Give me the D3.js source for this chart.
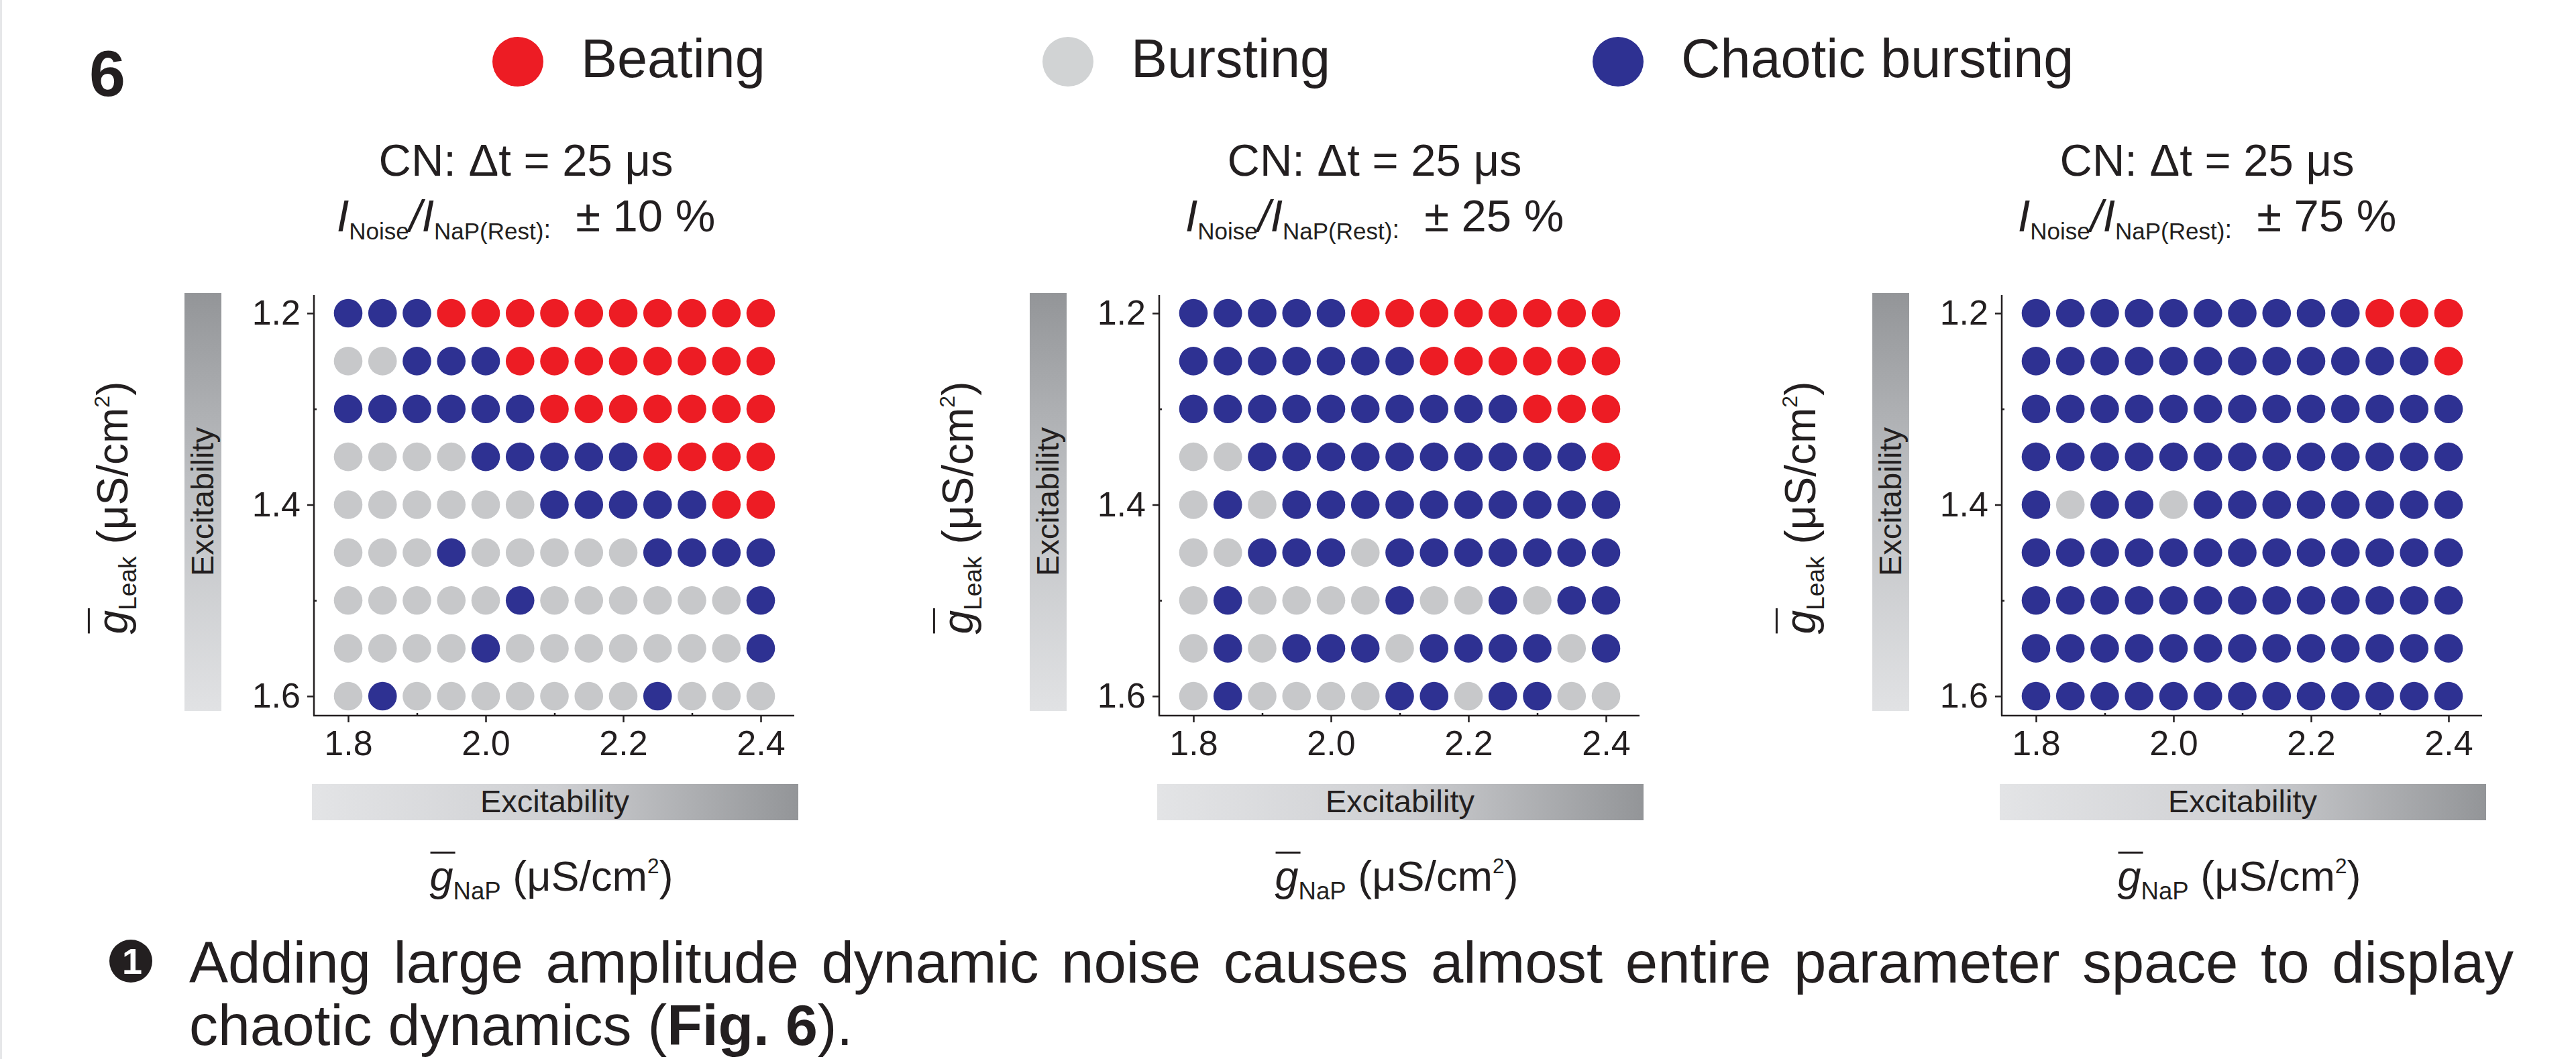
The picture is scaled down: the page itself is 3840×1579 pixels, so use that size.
<!DOCTYPE html>
<html>
<head>
<meta charset="utf-8">
<script src="https://cdn.jsdelivr.net/npm/d3@7"></script>
<style>
  html, body { margin: 0; padding: 0; background: #fff; }
  svg { display: block; font-family: "Liberation Sans", Arial, sans-serif; }
</style>
</head>
<body>
<svg id="chart" width="3840" height="1579"></svg>
<script>
// data
var gNaP = [1.80, 1.85, 1.90, 1.95, 2.00, 2.05, 2.10, 2.15, 2.20, 2.25, 2.30, 2.35, 2.40];
var gLeak = [1.20, 1.25, 1.30, 1.35, 1.40, 1.45, 1.50, 1.55, 1.60];
var xTicks = [1.8, 2.0, 2.2, 2.4];
var yTicks = [1.2, 1.4, 1.6];
var stateCodes = ["B", "S", "C"];
var stateNames = ["Beating", "Bursting", "Chaotic bursting"];
var noiseLevels = ["10", "25", "75"];
// B = beating, S = bursting, C = chaotic bursting; one string per gLeak row
var grid10 = [
    "CCCBBBBBBBBBB",
    "SSCCCBBBBBBBB",
    "CCCCCCBBBBBBB",
    "SSSSCCCCCBBBB",
    "SSSSSSCCCCCBB",
    "SSSCSSSSSCCCC",
    "SSSSSCSSSSSSC",
    "SSSSCSSSSSSSC",
    "SCSSSSSSSCSSS"
];
var grid25 = [
    "CCCCCBBBBBBBB",
    "CCCCCCCBBBBBB",
    "CCCCCCCCCCBBB",
    "SSCCCCCCCCCCB",
    "SCSCCCCCCCCCC",
    "SSCCCSCCCCCCC",
    "SCSSSSCSSCSCC",
    "SCSCCCSCCCCSC",
    "SCSSSSCCSCCSS"
];
var grid75 = [
    "CCCCCCCCCCBBB",
    "CCCCCCCCCCCCB",
    "CCCCCCCCCCCCC",
    "CCCCCCCCCCCCC",
    "CSCCSCCCCCCCC",
    "CCCCCCCCCCCCC",
    "CCCCCCCCCCCCC",
    "CCCCCCCCCCCCC",
    "CCCCCCCCCCCCC"
];
var grids = [grid10, grid25, grid75];

var ink = "#231f20";
var color = d3.scaleOrdinal().domain(stateCodes).range(["#ed1c24", "#c7c8ca", "#2e3192"]);
var legendColor = d3.scaleOrdinal().domain(stateCodes).range(["#ed1c24", "#d1d3d4", "#2e3192"]);

var svg = d3.select("#chart");
svg.append("rect").attr("width", 3840).attr("height", 1579).attr("fill", "#fff");
svg.append("rect").attr("width", 3).attr("height", 1579).attr("fill", "#e6e7e9");

// gradients
var defs = svg.append("defs");
var gv = defs.append("linearGradient").attr("id", "gradV").attr("x1", 0).attr("y1", 0).attr("x2", 0).attr("y2", 1);
gv.append("stop").attr("offset", "0%").attr("stop-color", "#939598");
gv.append("stop").attr("offset", "45%").attr("stop-color", "#bdbfc2");
gv.append("stop").attr("offset", "100%").attr("stop-color", "#e1e2e4");
var gh = defs.append("linearGradient").attr("id", "gradH").attr("x1", 0).attr("y1", 0).attr("x2", 1).attr("y2", 0);
gh.append("stop").attr("offset", "0%").attr("stop-color", "#e3e4e6");
gh.append("stop").attr("offset", "50%").attr("stop-color", "#cfd0d3");
gh.append("stop").attr("offset", "100%").attr("stop-color", "#939598");

// rich text helper: parts = [{t, size, italic, bold, shift}]
function richText(parent, x, y, parts, anchor) {
    var t = parent.append("text").attr("x", x).attr("y", y)
        .attr("text-anchor", anchor || "start").attr("fill", ink);
    var cur = 0;
    parts.forEach(function (p) {
        var s = p.shift || 0;
        t.append("tspan")
            .attr("dy", s - cur)
            .attr("font-size", p.size)
            .attr("font-style", p.italic ? "italic" : "normal")
            .attr("font-weight", p.bold ? "bold" : "normal")
            .text(p.t);
        cur = s;
    });
    return t;
}

function conductanceLabel(parent, sub, size) {
    var t = richText(parent, 0, 0, [
        { t: "g", size: size, italic: true },
        { t: sub, size: size * 0.58, shift: size * 0.2 },
        { t: "\u00a0(\u03bcS/cm", size: size },
        { t: "2", size: size * 0.5, shift: -size * 0.42 },
        { t: ")", size: size }
    ], "middle");
    var node = t.node();
    var a = node.getStartPositionOfChar(0), b = node.getEndPositionOfChar(0);
    parent.append("line")
        .attr("x1", a.x + 1).attr("x2", b.x + 3)
        .attr("y1", -size * 0.9).attr("y2", -size * 0.9)
        .attr("stroke", ink).attr("stroke-width", 3);
}

// figure number
svg.append("text").attr("x", 133).attr("y", 143).attr("font-size", 97)
    .attr("font-weight", "bold").attr("fill", ink).text("6");

// legend
var legendX = [772, 1592, 2412];
stateCodes.forEach(function (c, i) {
    svg.append("ellipse").attr("cx", legendX[i]).attr("cy", 92).attr("rx", 38).attr("ry", 37)
        .attr("fill", legendColor(c));
    svg.append("text").attr("x", legendX[i] + 94).attr("y", 115).attr("font-size", 81)
        .attr("fill", ink).text(stateNames[i]);
});

// panels
var panelDx = [0, 1260, 2516];
var titleX = [784, 2049, 3290];
var x = d3.scaleLinear().domain([1.8, 2.4]).range([519, 1134]);
var y = d3.scaleLinear().domain([1.2, 1.6]).range([467, 1038]);
var axisY0 = 1067, axisX0 = 468;

grids.forEach(function (grid, p) {
    var g = svg.append("g").attr("transform", "translate(" + panelDx[p] + ",0)");

    // title
    var tx = titleX[p] - panelDx[p];
    g.append("text").attr("x", tx).attr("y", 262).attr("text-anchor", "middle")
        .attr("font-size", 67).attr("fill", ink).text("CN: \u0394t = 25 \u03bcs");
    richText(g, tx, 345, [
        { t: "I", size: 67, italic: true },
        { t: "Noise", size: 35, shift: 12 },
        { t: "/I", size: 67, italic: true },
        { t: "NaP(Rest)", size: 35, shift: 12 },
        { t: ":", size: 38, shift: 10 },
        { t: "\u00a0\u00a0\u00b1 " + noiseLevels[p] + " %", size: 67 }
    ], "middle");

    // dots
    var cells = [];
    grid.forEach(function (row, i) {
        row.split("").forEach(function (c, j) {
            cells.push({ gx: gNaP[j], gy: gLeak[i], s: c });
        });
    });
    g.append("g").selectAll("circle").data(cells).enter().append("circle")
        .attr("cx", function (d) { return x(d.gx); })
        .attr("cy", function (d) { return y(d.gy); })
        .attr("r", 21.3)
        .attr("fill", function (d) { return color(d.s); });

    // axes
    var xa = g.append("g").attr("transform", "translate(0," + axisY0 + ")")
        .call(d3.axisBottom(x).tickValues(xTicks).tickSize(10).tickPadding(12)
            .tickFormat(d3.format(".1f")));
    var xm = g.append("g").attr("transform", "translate(0," + axisY0 + ")")
        .call(d3.axisBottom(x).tickValues([1.9, 2.1, 2.3]).tickSize(-4).tickFormat(""));
    var ya = g.append("g").attr("transform", "translate(" + axisX0 + ",0)")
        .call(d3.axisLeft(y).tickValues(yTicks).tickSize(10).tickPadding(10)
            .tickFormat(d3.format(".1f")));
    var ym = g.append("g").attr("transform", "translate(" + axisX0 + ",0)")
        .call(d3.axisLeft(y).tickValues([1.3, 1.5]).tickSize(-4).tickFormat(""));
    [xa, xm, ya, ym].forEach(function (a) {
        a.select(".domain").remove();
        a.selectAll("line").attr("stroke", ink).attr("stroke-width", 2.5);
        a.selectAll("text").attr("font-size", 52).attr("fill", ink)
            .attr("font-family", "Liberation Sans, Arial, sans-serif");
    });
    g.append("line").attr("x1", axisX0 - 1).attr("x2", 1184).attr("y1", axisY0).attr("y2", axisY0)
        .attr("stroke", ink).attr("stroke-width", 2.5);
    g.append("line").attr("x1", axisX0).attr("x2", axisX0).attr("y1", 440).attr("y2", axisY0)
        .attr("stroke", ink).attr("stroke-width", 2.5);

    // excitability bars
    g.append("rect").attr("x", 275).attr("y", 437).attr("width", 55).attr("height", 623)
        .attr("fill", "url(#gradV)");
    g.append("text").attr("transform", "translate(318,748) rotate(-90)")
        .attr("text-anchor", "middle").attr("font-size", 47).attr("fill", ink).text("Excitability");
    g.append("rect").attr("x", 465).attr("y", 1169).attr("width", 725).attr("height", 54)
        .attr("fill", "url(#gradH)");
    g.append("text").attr("x", 827).attr("y", 1211).attr("text-anchor", "middle")
        .attr("font-size", 47).attr("fill", ink).text("Excitability");

    // axis titles
    conductanceLabel(g.append("g").attr("transform", "translate(822,1328)"), "NaP", 63);
    conductanceLabel(g.append("g").attr("transform", "translate(190,757) rotate(-90)"), "Leak", 64);
});

// bottom note
svg.append("circle").attr("cx", 195).attr("cy", 1433).attr("r", 32).attr("fill", ink);
svg.append("text").attr("x", 197).attr("y", 1452).attr("text-anchor", "middle")
    .attr("font-size", 54).attr("font-weight", "bold").attr("fill", "#fff").text("1");
var line1 = svg.append("text").attr("x", 282).attr("y", 1465).attr("font-size", 87).attr("fill", ink)
    .text("Adding large amplitude dynamic noise causes almost entire parameter space to display");
var natural = line1.node().getComputedTextLength();
var spaces = line1.text().split(" ").length - 1;
line1.attr("word-spacing", (3465 - natural) / spaces);
richText(svg, 282, 1558, [
    { t: "chaotic dynamics (", size: 86 },
    { t: "Fig. 6", size: 86, bold: true },
    { t: ").", size: 86 }
], "start");
</script>
</body>
</html>
